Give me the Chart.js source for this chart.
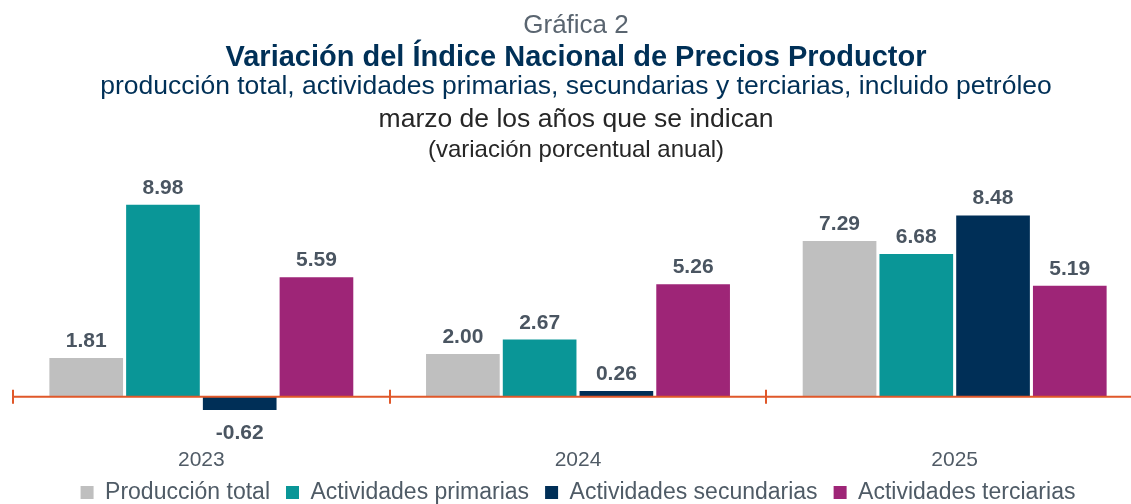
<!DOCTYPE html>
<html>
<head>
<meta charset="utf-8">
<script src="https://cdn.jsdelivr.net/npm/chart.js@4.4.1/dist/chart.umd.min.js"></script>
<style>
  html, body { margin: 0; padding: 0; background: #fff; overflow: hidden; }
  #wrap { position: relative; width: 1131px; height: 504px; overflow: hidden; }
  #myChart { position: absolute; left: 0; top: 0; }
  .hd { position: absolute; left: 0; width: 1152px; text-align: center; font-family: "Liberation Sans", Arial, sans-serif; white-space: nowrap; line-height: 1; }
</style>
</head>
<body>
<div id="wrap">
  <canvas id="myChart" width="1143" height="514"></canvas>
  <div class="hd" style="top:11px; font-size:26px; color:#5A6570;">Gráfica 2</div>
  <div class="hd" style="top:42px; font-size:29px; font-weight:bold; color:#003057;">Variación del Índice Nacional de Precios Productor</div>
  <div class="hd" style="top:72px; font-size:26.5px; color:#003057;">producción total, actividades primarias, secundarias y terciarias, incluido petróleo</div>
  <div class="hd" style="top:105px; font-size:26.5px; color:#262626;">marzo de los años que se indican</div>
  <div class="hd" style="top:137px; font-size:24px; color:#262626;">(variación porcentual anual)</div>
</div>
<script>
var years = ['2023', '2024', '2025'];
var produccionTotal = [1.81, 2.00, 7.29];
var primarias = [8.98, 2.67, 6.68];
var secundarias = [-0.62, 0.26, 8.48];
var terciarias = [5.59, 5.26, 5.19];

var axisColor = '#E0582A';
var labelColor = '#4A5561';

// value labels above / below each bar
var valueLabels = {
    id: 'valueLabels',
    afterDatasetsDraw: function(chart) {
        var ctx = chart.ctx;
        ctx.save();
        ctx.font = 'bold 21px "Liberation Sans", Arial, sans-serif';
        ctx.fillStyle = labelColor;
        ctx.textAlign = 'center';
        ctx.textBaseline = 'alphabetic';
        chart.data.datasets.forEach(function(ds, i) {
            chart.getDatasetMeta(i).data.forEach(function(bar, j) {
                var v = ds.data[j];
                var y = v >= 0 ? bar.y - 11 : bar.y + 29;
                ctx.fillText(v.toFixed(2), bar.x, y);
            });
        });
        ctx.restore();
    }
};

// orange zero line with tick marks between the categories
var zeroAxis = {
    id: 'zeroAxis',
    afterDatasetsDraw: function(chart) {
        var ctx = chart.ctx;
        var x = chart.scales.x;
        var y0 = chart.scales.y.getPixelForValue(0);
        var step = (x.right - x.left) / years.length;
        ctx.save();
        ctx.strokeStyle = axisColor;
        ctx.lineWidth = 2;
        ctx.beginPath();
        ctx.moveTo(x.left, y0);
        ctx.lineTo(x.right, y0);
        for (var i = 0; i <= years.length; i++) {
            var px = Math.round(x.left + i * step);
            ctx.moveTo(px, y0 - 7);
            ctx.lineTo(px, y0 + 7);
        }
        ctx.stroke();
        ctx.restore();
    }
};

var ctx = document.getElementById('myChart').getContext('2d');
var chart = new Chart(ctx, {
    type: 'bar',
    data: {
        labels: years,
        datasets: [
            { label: 'Producción total', data: produccionTotal, backgroundColor: '#BFBFBF' },
            { label: 'Actividades primarias', data: primarias, backgroundColor: '#0A9697' },
            { label: 'Actividades secundarias', data: secundarias, backgroundColor: '#002F57' },
            { label: 'Actividades terciarias', data: terciarias, backgroundColor: '#9E2577' }
        ]
    },
    options: {
        responsive: false,
        animation: false,
        categoryPercentage: 0.815,
        barPercentage: 0.96,
        layout: { padding: { left: 13, right: 0, top: 183, bottom: 0 } },
        scales: {
            x: {
                position: { y: 0 },
                grid: { display: false, drawTicks: false },
                border: { display: false },
                ticks: {
                    padding: 51,
                    color: '#505B66',
                    font: { family: '"Liberation Sans", Arial, sans-serif', size: 21 }
                }
            },
            y: {
                display: false,
                min: -3.2,
                max: 10
            }
        },
        plugins: {
            legend: {
                position: 'bottom',
                labels: {
                    boxWidth: 13,
                    boxHeight: 13,
                    padding: 16,
                    color: '#4F5B66',
                    font: { family: '"Liberation Sans", Arial, sans-serif', size: 23 }
                }
            },
            tooltip: { enabled: false }
        }
    },
    plugins: [valueLabels, zeroAxis]
});
</script>
</body>
</html>
